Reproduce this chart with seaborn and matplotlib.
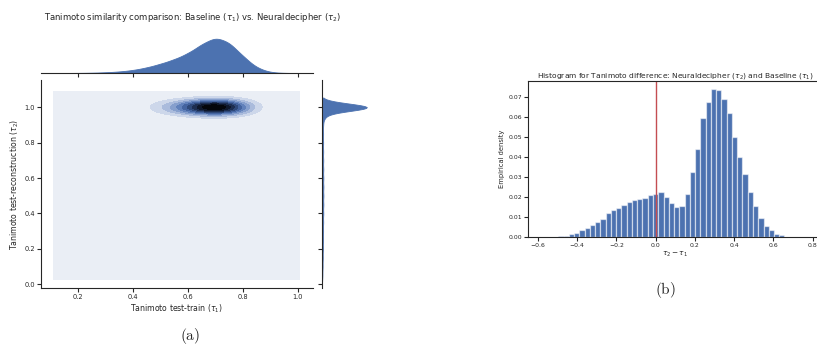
import numpy as np
import pandas as pd
import matplotlib
matplotlib.use("Agg")
import matplotlib.pyplot as plt
from matplotlib.colors import LinearSegmentedColormap
import seaborn as sns

# ---------------- data ----------------
# (a) marginal of tau1 (Baseline, test-train Tanimoto): support points and relative density
tau1_vals = [0.15, 0.20, 0.25, 0.30, 0.35, 0.40, 0.45, 0.50, 0.55, 0.60,
             0.65, 0.70, 0.75, 0.80, 0.85, 0.90, 0.95]
tau1_weight = [0.1, 0.3, 0.8, 2.0, 4.0, 8.0, 15.0, 25.0, 37.0, 53.0,
               78.0, 98.0, 84.0, 46.0, 14.0, 2.0, 0.3]
# (a) marginal of tau2 (Neuraldecipher, test-reconstruction Tanimoto)
tau2_vals = [0.05, 0.10, 0.15, 0.20, 0.25, 0.30, 0.35, 0.40, 0.45, 0.50,
             0.55, 0.60, 0.65, 0.70, 0.75, 0.80, 0.85, 0.90, 0.95, 1.00]
tau2_weight = [0.008, 0.012, 0.015, 0.018, 0.020, 0.022, 0.024, 0.026, 0.027, 0.028,
               0.028, 0.027, 0.026, 0.025, 0.024, 0.023, 0.022, 0.022, 0.060, 1.000]
# (a) joint: tau1 profile of the pairs and the tau2 rows it is paired with
joint_tau1_weight = [0.0, 0.0, 0.0, 0.1, 0.3, 1.0, 5.0, 14.0, 30.0, 55.0,
                     85.0, 100.0, 80.0, 40.0, 10.0, 1.0, 0.0]
joint_tau2_vals = [0.2, 0.4, 0.6, 0.8, 1.0]
joint_tau2_weight = [0.005, 0.005, 0.005, 0.005, 1.0]

# (b) histogram of tau2 - tau1: bin centres and per-bin density
diff_centers = [-0.482, -0.455, -0.429, -0.402, -0.375, -0.348, -0.322, -0.295, -0.268, -0.241,
                -0.214, -0.188, -0.161, -0.134, -0.107, -0.080, -0.054, -0.027, 0.000, 0.027,
                0.054, 0.080, 0.107, 0.134, 0.161, 0.188, 0.214, 0.241, 0.268, 0.295,
                0.322, 0.348, 0.375, 0.402, 0.429, 0.455, 0.482, 0.509, 0.536, 0.563,
                0.590, 0.616, 0.643]
diff_density = [0.0003, 0.0007, 0.0013, 0.0020, 0.0033, 0.0045, 0.0062, 0.0075, 0.0092, 0.0118,
                0.0135, 0.0147, 0.0158, 0.0175, 0.0184, 0.0190, 0.0197, 0.0208, 0.0213, 0.0223,
                0.0198, 0.0170, 0.0148, 0.0153, 0.0213, 0.0327, 0.0440, 0.0597, 0.0677, 0.0740,
                0.0735, 0.0688, 0.0618, 0.0502, 0.0398, 0.0317, 0.0227, 0.0155, 0.0095, 0.0055,
                0.0033, 0.0015, 0.0008]

xticks_a = [0.2, 0.4, 0.6, 0.8, 1.0]
yticks_a = [0.0, 0.2, 0.4, 0.6, 0.8, 1.0]
xticks_b = [-0.6, -0.4, -0.2, 0.0, 0.2, 0.4, 0.6, 0.8]
yticks_b = [0.00, 0.01, 0.02, 0.03, 0.04, 0.05, 0.06, 0.07]

title_a = r"Tanimoto similarity comparison: Baseline ($\tau_1$) vs. Neuraldecipher ($\tau_2$)"
title_b = r"Histogram for Tanimoto difference: Neuraldecipher ($\tau_2$) and Baseline ($\tau_1$)"

# ---------------- style ----------------
BLUE = "#4c72b0"
RED = "#c44e52"
INK = "#262626"
sns.set_theme(style="ticks")
plt.rcParams.update({
    "font.family": ["DejaVu Sans"],
    "axes.edgecolor": INK,
    "axes.linewidth": 0.8,
    "xtick.color": INK,
    "ytick.color": INK,
    "xtick.major.size": 2.6,
    "ytick.major.size": 2.6,
    "xtick.major.width": 0.8,
    "ytick.major.width": 0.8,
    "xtick.major.pad": 1.8,
    "ytick.major.pad": 1.8,
    "xtick.labelsize": 4.4,
    "ytick.labelsize": 4.4,
    "axes.labelcolor": INK,
    "text.color": INK,
})

W, H = 817, 347
fig = plt.figure(figsize=(W / 100, H / 100), dpi=100)


def rect(l, t, r, b):
    return [l / W, 1 - b / H, (r - l) / W, (b - t) / H]


def wstd(v, w):
    return float(np.sqrt(np.cov(np.asarray(v, float), aweights=np.asarray(w, float))))


# ---------------- (a) joint KDE ----------------
ax_j = fig.add_axes(rect(41, 80, 313, 288))
ax_top = fig.add_axes(rect(41, 37, 313, 73))
ax_rt = fig.add_axes(rect(322, 80, 369, 288))

pairs = pd.DataFrame(
    [(x, y, wx * wy) for y, wy in zip(joint_tau2_vals, joint_tau2_weight)
     for x, wx in zip(tau1_vals, joint_tau1_weight) if wx * wy > 0],
    columns=["tau1", "tau2", "w"],
)
joint_factor = 0.028 / wstd(pairs["tau2"], pairs["w"])
# matplotlib colours each filled band by its mid-level relative to the top level,
# so the anchors sit at the band mid-points (0.05, 0.15, ... 0.95)
cmap = LinearSegmentedColormap.from_list("joint", [
    (0.00, "#eaeef5"), (0.05, "#eaeef5"), (0.15, "#c6d1e7"), (0.25, "#a3b6da"),
    (0.35, "#7f99ca"), (0.45, "#5a7bb8"), (0.55, "#3f5f9b"), (0.65, "#2c4574"),
    (0.75, "#1c2c4e"), (0.85, "#0e1729"), (0.95, "#04060b"), (1.00, "#020305")])
sns.kdeplot(data=pairs, x="tau1", y="tau2", weights="w", fill=True, thresh=0, levels=11,
            cmap=cmap, bw_method=joint_factor, cut=8, gridsize=400,
            clip=((0.11, 1.007), (0.028, 1.09)), ax=ax_j)
ax_j.set_xlim(0.064, 1.056)
ax_j.set_ylim(-0.021, 1.154)
ax_j.set_xticks(xticks_a)
ax_j.set_yticks(yticks_a)
ax_j.tick_params(labelsize=4.8)
ax_j.set_xlabel(r"Tanimoto test-train ($\tau_1$)", fontsize=5.6, labelpad=2.0)
ax_j.set_ylabel(r"Tanimoto test-reconstruction ($\tau_2$)", fontsize=5.6, labelpad=2.5)
sns.despine(ax=ax_j)

top_df = pd.DataFrame({"tau1": tau1_vals, "w": tau1_weight})
sns.kdeplot(data=top_df, x="tau1", weights="w", fill=True, alpha=1, color=BLUE, linewidth=0.6,
            bw_method=0.03 / wstd(tau1_vals, tau1_weight), ax=ax_top)
ax_top.set_xlim(ax_j.get_xlim())
ax_top.set_ylim(bottom=0)
ax_top.set_xticks(xticks_a)
ax_top.tick_params(labelbottom=False, left=False, labelleft=False)
ax_top.set_xlabel("")
ax_top.set_ylabel("")
sns.despine(ax=ax_top, left=True)

rt_df = pd.DataFrame({"tau2": tau2_vals, "w": tau2_weight})
sns.kdeplot(data=rt_df, y="tau2", weights="w", fill=True, alpha=1, color=BLUE, linewidth=0.6,
            bw_method=0.021 / wstd(tau2_vals, tau2_weight), ax=ax_rt)
ax_rt.set_ylim(ax_j.get_ylim())
ax_rt.set_xlim(left=0)
ax_rt.set_yticks(yticks_a)
ax_rt.tick_params(labelleft=False, bottom=False, labelbottom=False)
ax_rt.set_xlabel("")
ax_rt.set_ylabel("")
sns.despine(ax=ax_rt, bottom=True)

fig.text(193 / W, 1 - 17 / H, title_a, ha="center", va="center", fontsize=6.1)
fig.text(190 / W, 1 - 336 / H, r"$\mathrm{(a)}$", ha="center", va="center",
         fontsize=11, math_fontfamily="cm")

# ---------------- (b) histogram ----------------
ax_h = fig.add_axes(rect(528, 81, 822.5, 237))
centers = np.asarray(diff_centers)
width = float(np.mean(np.diff(centers)))
edges = list(np.append(centers - width / 2, centers[-1] + width / 2))
hist_df = pd.DataFrame({"diff": diff_centers, "density": diff_density})
sns.histplot(data=hist_df, x="diff", weights="density", bins=edges, stat="count",
             color=BLUE, alpha=1, edgecolor=(1, 1, 1, 0.55), linewidth=0.9, ax=ax_h)
ax_h.axvline(0.0, color=RED, linewidth=1.0)
ax_h.set_xlim(-0.65, 0.85)
ax_h.set_ylim(0, 0.078)
ax_h.set_xticks(xticks_b)
ax_h.set_yticks(yticks_b)
ax_h.yaxis.set_major_formatter(matplotlib.ticker.FormatStrFormatter("%.2f"))
ax_h.set_xlabel(r"$\tau_2 - \tau_1$", fontsize=5.3, labelpad=1.0)
ax_h.set_ylabel("Empirical density", fontsize=4.9, labelpad=2.5)
ax_h.spines["right"].set_visible(False)
ax_h.set_title(title_b, fontsize=5.4, pad=2.5)

fig.text(665 / W, 1 - 290 / H, r"$\mathrm{(b)}$", ha="center", va="center",
         fontsize=11, math_fontfamily="cm")

fig.savefig("out.png", dpi=100)
